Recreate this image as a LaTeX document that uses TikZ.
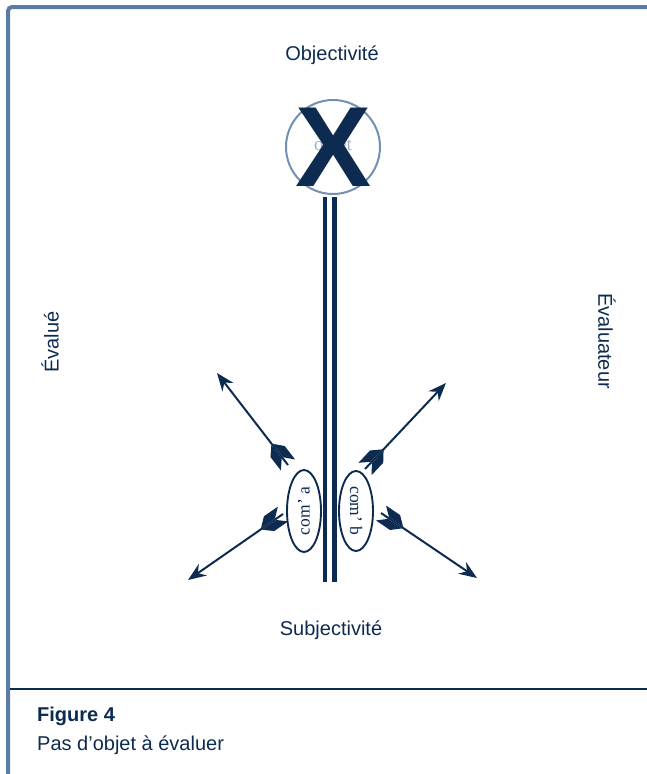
\documentclass[tikz,border=0pt]{standalone}
\usepackage{fontspec}
\setmainfont{Liberation Sans}
\newfontfamily\serifface{Liberation Serif}
\usetikzlibrary{arrows.meta,decorations.markings,shapes.geometric}
\definecolor{navy}{HTML}{0D2B50}
\definecolor{steel}{HTML}{5A7CA4}
\definecolor{circ}{HTML}{7390B3}
\definecolor{objtxt}{HTML}{9DB0C8}
\newcommand\feather[1]{(26pt,#1*1pt) -- (17pt,#1*9pt) -- (0pt,#1*9pt) -- (9pt,#1*1pt) -- cycle}
\begin{document}
\begin{tikzpicture}[x=1pt,y=-1pt,
  lbl/.style={text=navy,font=\fontsize{20}{24}\selectfont,inner sep=0pt},
  rail/.style={navy,line width=4.8pt},
  comell/.style={ellipse,draw=navy,line width=1.9pt,fill=white,inner sep=0pt,
    text=navy,font=\serifface\fontsize{17.5}{20}\selectfont},
  fletched/.style={navy,line width=2pt,
    -{Stealth[length=18pt,width=14pt,inset=6pt]},
    postaction={decorate},
    decoration={markings,mark=at position 0 with {\fill[navy] \feather{1} \feather{-1};}}}]
\useasboundingbox (0,0) rectangle (647,774);
% frame
\draw[steel,line width=4pt,rounded corners=4pt] (8,774) -- (8,7) -- (647,7);
\coordinate (sepL) at (10,689);
\coordinate (sepR) at (647,689);
\draw[navy,line width=1.6pt] (sepL) -- (sepR);
% labels
\node[lbl] (objv) at (332,55) {Objectivité};
\node[lbl] (subj) at (331,630) {Subjectivité};
\node[lbl,rotate=90] (evalue) at (50,342) {Évalué};
\node[lbl,rotate=-90] (evaluateur) at (607,341) {Évaluateur};
\node[lbl,anchor=west,font=\fontsize{20}{24}\selectfont\bfseries] (fig) at (37,716) {Figure 4};
\node[lbl,anchor=west] (cap) at (37,745) {Pas d’objet à évaluer};
% object
\node[circle,draw=circ,line width=2pt,minimum size=94pt,inner sep=0pt] (obj) at (333,147) {};
\node[text=objtxt,font=\serifface\fontsize{19}{22}\selectfont,inner sep=0pt] (objt) at (333,146) {objet};
\node[text=navy,font=\fontsize{114}{114}\selectfont\bfseries,inner sep=0pt] (X) at (333.5,147) {X};
% rails
\coordinate (r1t) at (325,197); \coordinate (r1b) at (325,582);
\coordinate (r2t) at (334.5,197); \coordinate (r2b) at (334.5,582);
\draw[rail] (r1t) -- (r1b);
\draw[rail] (r2t) -- (r2b);
% com ellipses
\node[comell,rotate=90,minimum width=82pt,minimum height=34pt] (coma) at (304,511) {com’ a};
\node[comell,rotate=-90,minimum width=80pt,minimum height=34pt] (comb) at (356,511) {com’ b};
% arrows
\coordinate (a1t) at (288,465); \coordinate (a1h) at (217,373);
\coordinate (a2t) at (283,514); \coordinate (a2h) at (188,580);
\coordinate (a3t) at (365,469); \coordinate (a3h) at (446,383);
\coordinate (a4t) at (381,513); \coordinate (a4h) at (477,578);
\draw[fletched] (a1t) -- (a1h);
\draw[fletched] (a2t) -- (a2h);
\draw[fletched] (a3t) -- (a3h);
\draw[fletched] (a4t) -- (a4h);
\end{tikzpicture}
\end{document}
